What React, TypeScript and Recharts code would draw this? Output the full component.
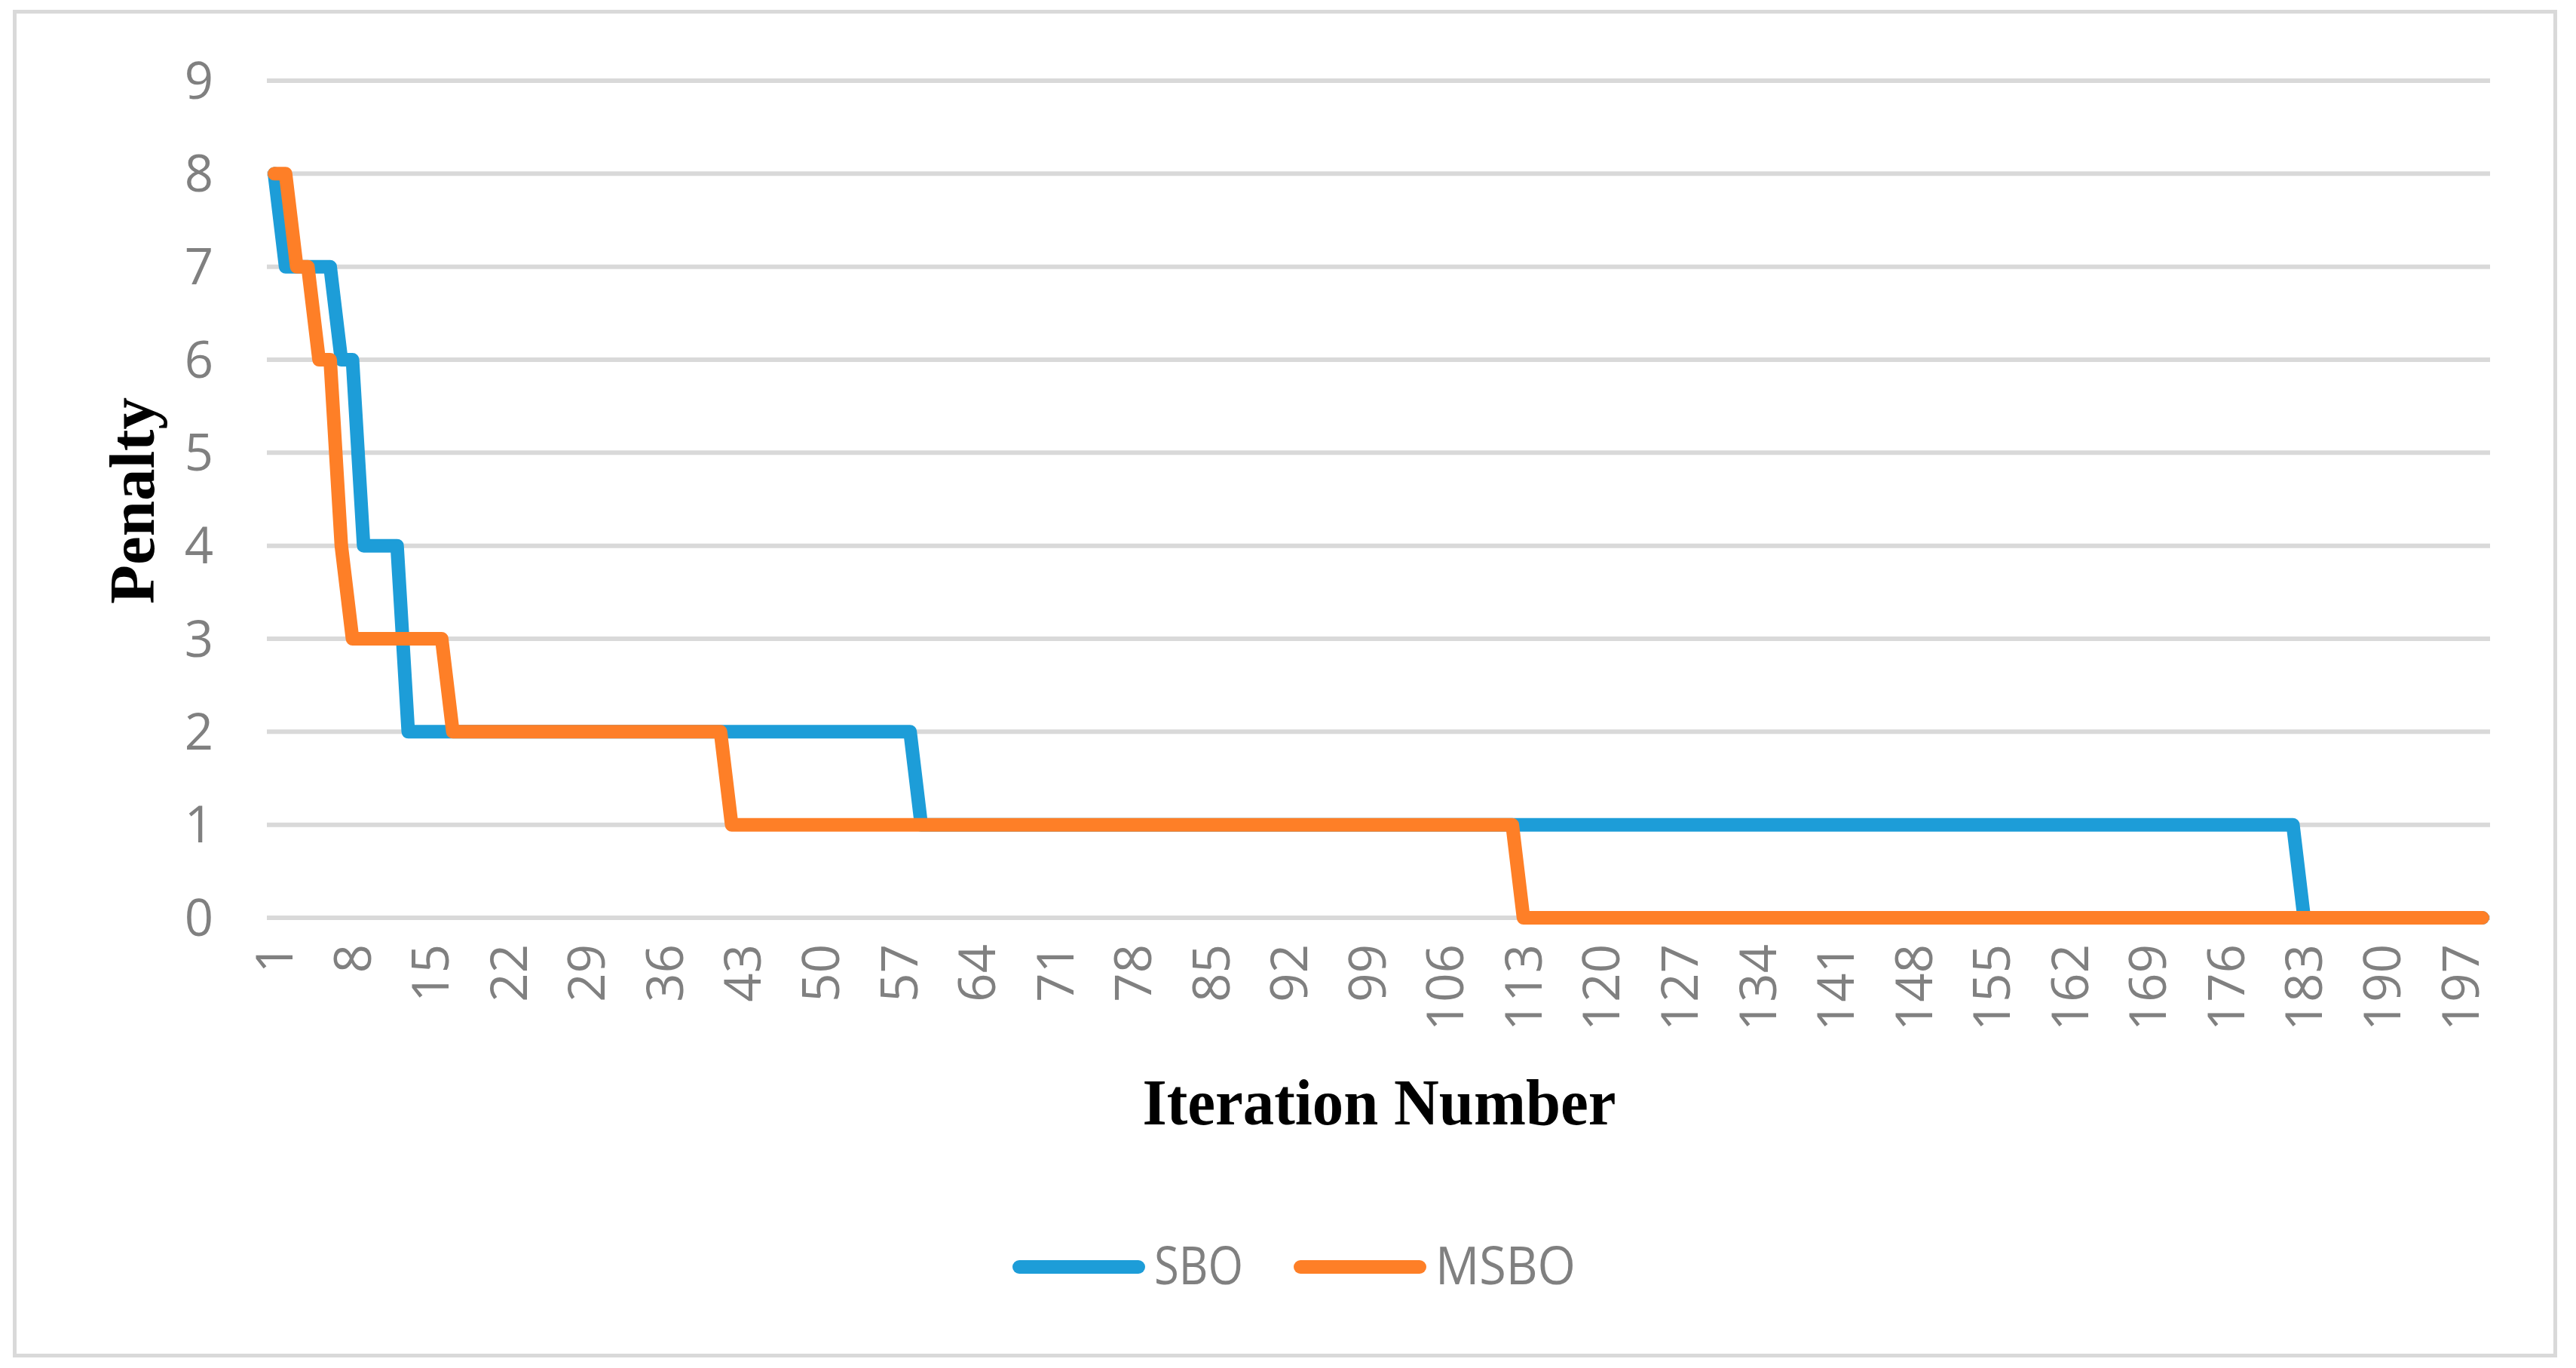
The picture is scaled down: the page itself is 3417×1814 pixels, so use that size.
import { LineChart, Line, XAxis, YAxis, CartesianGrid, Legend } from "recharts";

// penalty per iteration (199 iterations)
const sbo = [
  8, 7, 7, 7, 7, 7, 6, 6, 4, 4, 4, 4, 2, 2, 2, 2, 2, 2, 2, 2,
  2, 2, 2, 2, 2, 2, 2, 2, 2, 2, 2, 2, 2, 2, 2, 2, 2, 2, 2, 2,
  2, 2, 2, 2, 2, 2, 2, 2, 2, 2, 2, 2, 2, 2, 2, 2, 2, 2, 1, 1,
  1, 1, 1, 1, 1, 1, 1, 1, 1, 1, 1, 1, 1, 1, 1, 1, 1, 1, 1, 1,
  1, 1, 1, 1, 1, 1, 1, 1, 1, 1, 1, 1, 1, 1, 1, 1, 1, 1, 1, 1,
  1, 1, 1, 1, 1, 1, 1, 1, 1, 1, 1, 1, 1, 1, 1, 1, 1, 1, 1, 1,
  1, 1, 1, 1, 1, 1, 1, 1, 1, 1, 1, 1, 1, 1, 1, 1, 1, 1, 1, 1,
  1, 1, 1, 1, 1, 1, 1, 1, 1, 1, 1, 1, 1, 1, 1, 1, 1, 1, 1, 1,
  1, 1, 1, 1, 1, 1, 1, 1, 1, 1, 1, 1, 1, 1, 1, 1, 1, 1, 1, 1,
  1, 1, 0, 0, 0, 0, 0, 0, 0, 0, 0, 0, 0, 0, 0, 0, 0, 0, 0,
];

const msbo = [
  8, 8, 7, 7, 6, 6, 4, 3, 3, 3, 3, 3, 3, 3, 3, 3, 2, 2, 2, 2,
  2, 2, 2, 2, 2, 2, 2, 2, 2, 2, 2, 2, 2, 2, 2, 2, 2, 2, 2, 2,
  2, 1, 1, 1, 1, 1, 1, 1, 1, 1, 1, 1, 1, 1, 1, 1, 1, 1, 1, 1,
  1, 1, 1, 1, 1, 1, 1, 1, 1, 1, 1, 1, 1, 1, 1, 1, 1, 1, 1, 1,
  1, 1, 1, 1, 1, 1, 1, 1, 1, 1, 1, 1, 1, 1, 1, 1, 1, 1, 1, 1,
  1, 1, 1, 1, 1, 1, 1, 1, 1, 1, 1, 1, 0, 0, 0, 0, 0, 0, 0, 0,
  0, 0, 0, 0, 0, 0, 0, 0, 0, 0, 0, 0, 0, 0, 0, 0, 0, 0, 0, 0,
  0, 0, 0, 0, 0, 0, 0, 0, 0, 0, 0, 0, 0, 0, 0, 0, 0, 0, 0, 0,
  0, 0, 0, 0, 0, 0, 0, 0, 0, 0, 0, 0, 0, 0, 0, 0, 0, 0, 0, 0,
  0, 0, 0, 0, 0, 0, 0, 0, 0, 0, 0, 0, 0, 0, 0, 0, 0, 0, 0,
];

const iterations = sbo.map((_, i) => i + 1);
const yTicks = [0, 1, 2, 3, 4, 5, 6, 7, 8, 9];
const seriesOrder = ["SBO", "MSBO"];

const data = iterations.map((it, i) => ({ iteration: it, SBO: sbo[i], MSBO: msbo[i] }));

const GRAY = "#808080";
const TICK_FONT = "'Open Sans', sans-serif";
const TITLE_FONT = "'Liberation Serif', 'Times New Roman', serif";

function XTick({ x, y, payload }: any) {
  return (
    <text
      x={x}
      y={y}
      transform={`rotate(-90 ${x} ${y})`}
      textAnchor="end"
      dy="0.36em"
      fill={GRAY}
      fontSize={67}
      fontFamily={TICK_FONT}
    >
      {payload.value}
    </text>
  );
}

function XTitle({ viewBox }: any) {
  return (
    <text
      x={viewBox.x + viewBox.width / 2 + 1}
      y={viewBox.y + 274}
      textAnchor="middle"
      fontFamily={TITLE_FONT}
      fontWeight="bold"
      fontSize={86}
      fill="#000"
      textLength={628}
      lengthAdjust="spacingAndGlyphs"
    >
      Iteration Number
    </text>
  );
}

function YTitle({ viewBox }: any) {
  const cx = 204;
  const cy = viewBox.y + viewBox.height / 2 + 2;
  return (
    <text
      x={cx}
      y={cy}
      transform={`rotate(-90 ${cx} ${cy})`}
      textAnchor="middle"
      fontFamily={TITLE_FONT}
      fontWeight="bold"
      fontSize={85}
      fill="#000"
    >
      Penalty
    </text>
  );
}

const textWidths: Record<string, number> = { SBO: 118, MSBO: 186 };

function LegendContent({ payload }: any) {
  const items = [...(payload || [])].sort(
    (a: any, b: any) => seriesOrder.indexOf(a.value) - seriesOrder.indexOf(b.value)
  );
  let cursor = 0;
  const placed = items.map((p: any) => {
    const start = cursor;
    const tw = textWidths[p.value] || 120;
    cursor += 176 + 12 + tw + 67;
    return { ...p, start, tw };
  });
  const total = cursor - 67;
  return (
    <div style={{ width: "100%", display: "flex", justifyContent: "center", paddingLeft: 16, boxSizing: "border-box" }}>
      <svg width={total + 20} height={100} style={{ overflow: "visible", marginRight: -20 }}>
        {placed.map((p: any) => (
          <g key={p.value}>
            <line
              x1={p.start + 9}
              x2={p.start + 167}
              y1={51}
              y2={51}
              stroke={p.color}
              strokeWidth={18}
              strokeLinecap="round"
            />
            <text
              x={p.start + 188}
              y={74}
              fill={GRAY}
              fontSize={70}
              fontFamily={TICK_FONT}
              textLength={p.tw}
              lengthAdjust="spacingAndGlyphs"
            >
              {p.value}
            </text>
          </g>
        ))}
      </svg>
    </div>
  );
}

export default function App() {
  return (
    <div style={{ position: "absolute", left: 0, top: 0, width: 3417, height: 1814, background: "#fff" }}>
      <div
        style={{
          position: "absolute",
          left: 17,
          top: 13,
          width: 3375,
          height: 1787,
          border: "5px solid #d9d9d9",
          boxSizing: "border-box",
        }}
      />
      <div style={{ position: "absolute", left: 0, top: 0 }}>
        <LineChart width={3417} height={1814} data={data} margin={{ top: 107, right: 114, bottom: 85, left: 0 }}>
          <CartesianGrid vertical={false} stroke="#d9d9d9" strokeWidth={6} />
          <XAxis
            dataKey="iteration"
            interval={6}
            tick={<XTick />}
            tickLine={false}
            axisLine={false}
            tickMargin={29}
            height={412}
            padding={{ left: 10, right: 10 }}
            label={{ content: <XTitle /> }}
          />
          <YAxis
            domain={[0, 9]}
            ticks={yTicks}
            interval={0}
            width={354}
            tickLine={false}
            axisLine={false}
            tickMargin={65}
            tick={{ fill: GRAY, fontSize: 67, fontFamily: TICK_FONT }}
            label={{ content: <YTitle /> }}
          />
          <Legend
            verticalAlign="bottom"
            align="center"
            wrapperStyle={{ left: 0, width: 3417 }}
            content={<LegendContent />}
          />
          <Line
            type="linear"
            dataKey="SBO"
            name="SBO"
            stroke="#1d9dd8"
            strokeWidth={18}
            strokeLinecap="round"
            strokeLinejoin="round"
            dot={false}
            activeDot={false}
            isAnimationActive={false}
          />
          <Line
            type="linear"
            dataKey="MSBO"
            name="MSBO"
            stroke="#fe7f27"
            strokeWidth={18}
            strokeLinecap="round"
            strokeLinejoin="round"
            dot={false}
            activeDot={false}
            isAnimationActive={false}
          />
        </LineChart>
      </div>
    </div>
  );
}
